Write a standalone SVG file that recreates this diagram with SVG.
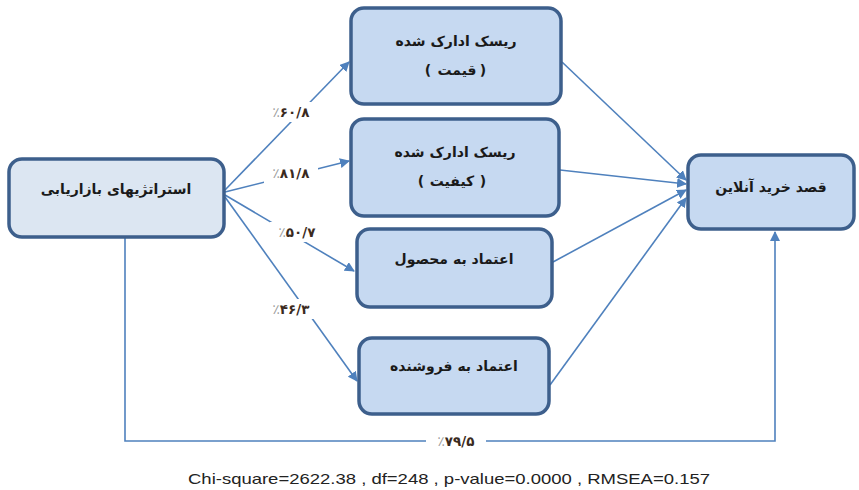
<svg xmlns="http://www.w3.org/2000/svg" width="859" height="490" viewBox="0 0 859 490">
<style>
.box{stroke:#3d5f8c;stroke-width:3.5;fill:#c6d9f1}
.src{fill:#dce6f2}
.fa{font-family:"DejaVu Sans","Noto Sans",sans-serif;font-size:14px;font-weight:bold;fill:#1a1a1a;text-anchor:middle}
.edge{stroke:#4f81bd;stroke-width:1.6;fill:none}
.pct{font-family:"DejaVu Sans","Noto Sans",sans-serif;font-size:13.5px;font-weight:bold;fill:#3a2a20;text-anchor:middle}
.pg{fill:#9a9a9a;font-weight:normal}
.cap{font-family:"Liberation Sans",Arial,sans-serif;font-size:15px;fill:#222}
</style>
<defs>
<marker id="ah" viewBox="0 0 10 10" refX="9" refY="5" markerWidth="10" markerHeight="10" markerUnits="userSpaceOnUse" orient="auto">
<path d="M0,0 L10,5 L0,10 z" fill="#4f81bd"/>
</marker>
</defs>
<rect width="859" height="490" fill="#fff"/>
<g id="connectors">
<line class="edge" x1="225" y1="190" x2="349" y2="62" marker-end="url(#ah)"/>
<line class="edge" x1="225" y1="192" x2="349" y2="161" marker-end="url(#ah)"/>
<line class="edge" x1="225" y1="195" x2="354" y2="271" marker-end="url(#ah)"/>
<line class="edge" x1="225" y1="197" x2="357" y2="381" marker-end="url(#ah)"/>
<line class="edge" x1="562" y1="62" x2="686" y2="180" marker-end="url(#ah)"/>
<line class="edge" x1="560" y1="170" x2="686" y2="184" marker-end="url(#ah)"/>
<line class="edge" x1="553" y1="262" x2="686" y2="190" marker-end="url(#ah)"/>
<line class="edge" x1="550" y1="385" x2="686" y2="198" marker-end="url(#ah)"/>
<polyline class="edge" points="125,238 125,441 775,441 775,232" marker-end="url(#ah)"/>
<rect x="264" y="102" width="54" height="20" fill="#fff"/>
<text class="pct" x="291" y="117"><tspan class="pg">٪</tspan>۶۰/۸</text>
<rect x="264" y="163" width="54" height="20" fill="#fff"/>
<text class="pct" x="291" y="178"><tspan class="pg">٪</tspan>۸۱/۸</text>
<rect x="270" y="222" width="54" height="20" fill="#fff"/>
<text class="pct" x="297" y="237"><tspan class="pg">٪</tspan>۵۰/۷</text>
<rect x="264" y="299" width="54" height="20" fill="#fff"/>
<text class="pct" x="291" y="314"><tspan class="pg">٪</tspan>۴۶/۳</text>
<rect x="426" y="431" width="60" height="20" fill="#fff"/>
<text class="pct" x="456" y="446"><tspan class="pg">٪</tspan>۷۹/۵</text>
</g>
<g id="n-strategy">
<rect class="box src" x="9" y="159" width="215" height="78" rx="13"/>
<text class="fa" x="116" y="194">استراتژیهای بازاریابی</text>
</g>
<g id="n-price">
<rect class="box" x="351" y="8" width="210" height="96" rx="13"/>
<text class="fa" x="456" y="46">ریسک ادارک شده</text>
<text class="fa" x="428" y="75">(</text>
<text class="fa" x="457" y="75">قیمت</text>
<text class="fa" x="483" y="75">)</text>
</g>
<g id="n-quality">
<rect class="box" x="351" y="119" width="208" height="97" rx="13"/>
<text class="fa" x="455" y="157">ریسک ادارک شده</text>
<text class="fa" x="421" y="186">(</text>
<text class="fa" x="452" y="186">کیفیت</text>
<text class="fa" x="483" y="186">)</text>
</g>
<g id="n-product">
<rect class="box" x="357" y="229" width="195" height="78" rx="13"/>
<text class="fa" x="454" y="264">اعتماد به محصول</text>
</g>
<g id="n-seller">
<rect class="box" x="359" y="338" width="190" height="76" rx="13"/>
<text class="fa" x="454" y="371">اعتماد به فروشنده</text>
</g>
<g id="n-intent">
<rect class="box" x="688" y="155" width="166" height="74" rx="13"/>
<text class="fa" x="771" y="192">قصد خرید  آنلاین</text>
</g>
<text class="cap" x="188" y="484" textLength="522" lengthAdjust="spacingAndGlyphs">Chi-square=2622.38 ,  df=248 , p-value=0.0000 , RMSEA=0.157</text>
</svg>
